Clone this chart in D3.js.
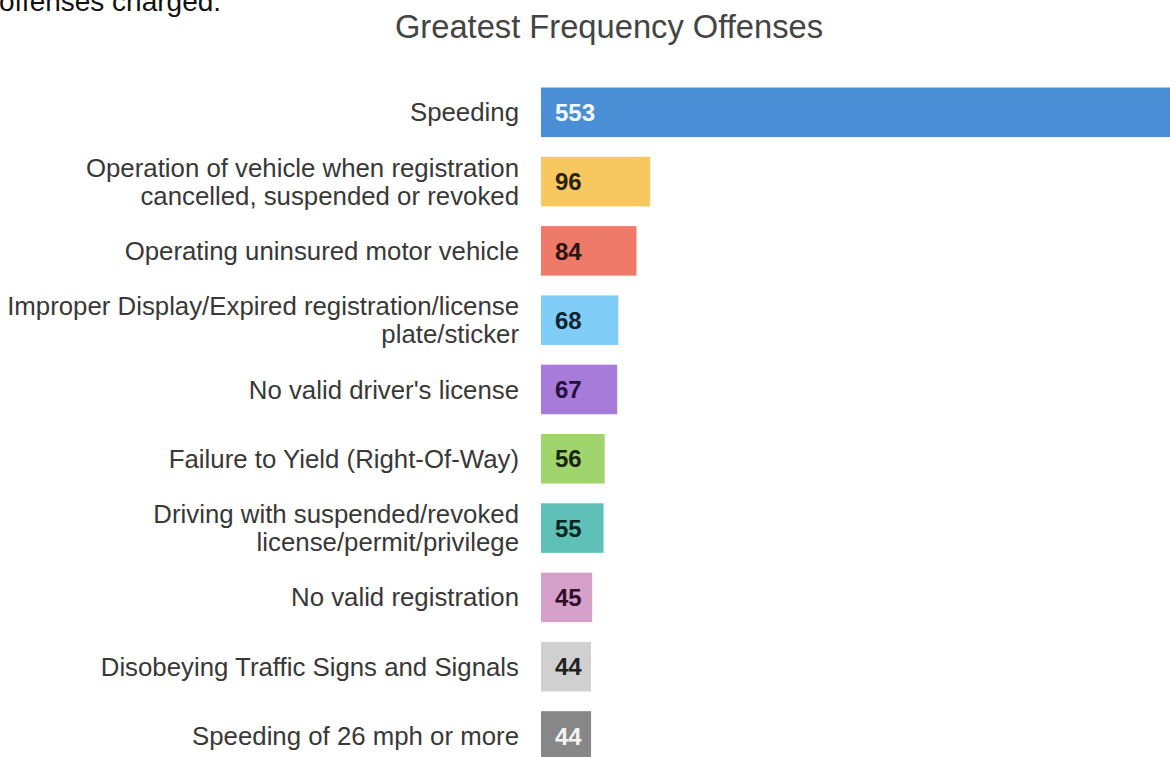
<!DOCTYPE html>
<html>
<head>
<meta charset="utf-8">
<script src="https://cdn.jsdelivr.net/npm/d3@7"></script>
<style>
  html, body { margin: 0; padding: 0; background: #fff; overflow: hidden; }
  text { font-family: "Liberation Sans", Arial, sans-serif; }
</style>
</head>
<body>
<div id="chart"></div>
<script>
const categories = [
    "Speeding",
    "Operation of vehicle when registration\ncancelled, suspended or revoked",
    "Operating uninsured motor vehicle",
    "Improper Display/Expired registration/license\nplate/sticker",
    "No valid driver's license",
    "Failure to Yield (Right-Of-Way)",
    "Driving with suspended/revoked\nlicense/permit/privilege",
    "No valid registration",
    "Disobeying Traffic Signs and Signals",
    "Speeding of 26 mph or more"
];
const counts = [553, 96, 84, 68, 67, 56, 55, 45, 44, 44];
const barColors = ["#4a8fd5", "#f6c85f", "#ee7b69", "#80cdf8", "#a77bd9",
    "#a0d46c", "#5ec0b6", "#d5a1cb", "#d0d0d0", "#878787"];
const valueColors = ["#f4f8ff", "#2b2410", "#2b1410", "#102430", "#24103a",
    "#18280c", "#0c2622", "#301028", "#222", "#f4f4f4"];

function drawChart() {
    const width = 1170, height = 757;
    const left = 541;

    const svg = d3.select("#chart")
        .append("svg")
        .attr("width", width)
        .attr("height", height);

    // leftover line of text from the page above the chart
    svg.append("text")
        .attr("x", -1)
        .attr("y", 11)
        .style("font-size", "28px")
        .style("fill", "#111")
        .text("offenses charged.");

    svg.append("text")
        .attr("x", 609)
        .attr("y", 38)
        .attr("text-anchor", "middle")
        .style("font-size", "32.7px")
        .style("fill", "#444")
        .text("Greatest Frequency Offenses");

    const x = d3.scaleLinear()
        .domain([0, 553])
        .range([0, width - left]);

    const y = d3.scaleBand()
        .domain(categories)
        .range([67.75, 780.5])
        .padding(0.285);

    const rows = svg.selectAll(".row")
        .data(categories.map((c, i) => ({cat: c, value: counts[i], i: i})))
        .enter().append("g")
        .attr("class", "row");

    rows.append("rect")
        .attr("x", left)
        .attr("y", d => y(d.cat))
        .attr("width", d => x(d.value))
        .attr("height", y.bandwidth())
        .attr("fill", d => barColors[d.i]);

    rows.append("text")
        .attr("x", left + 14)
        .attr("y", d => y(d.cat) + y.bandwidth() / 2)
        .attr("dy", "0.36em")
        .style("font-size", "24px")
        .style("font-weight", "bold")
        .style("fill", d => valueColors[d.i])
        .text(d => d.value);

    const labels = rows.append("text")
        .attr("text-anchor", "end")
        .style("font-size", "25.8px")
        .style("fill", "#383838");

    labels.each(function(d) {
        const lines = d.cat.split("\n");
        const cy = y(d.cat) + y.bandwidth() / 2;
        const lh = 28;
        lines.forEach((ln, k) => {
            d3.select(this).append("tspan")
                .attr("x", 519)
                .attr("y", cy + (k - (lines.length - 1) / 2) * lh)
                .attr("dy", "0.35em")
                .text(ln);
        });
    });
}

drawChart();
</script>
</body>
</html>
